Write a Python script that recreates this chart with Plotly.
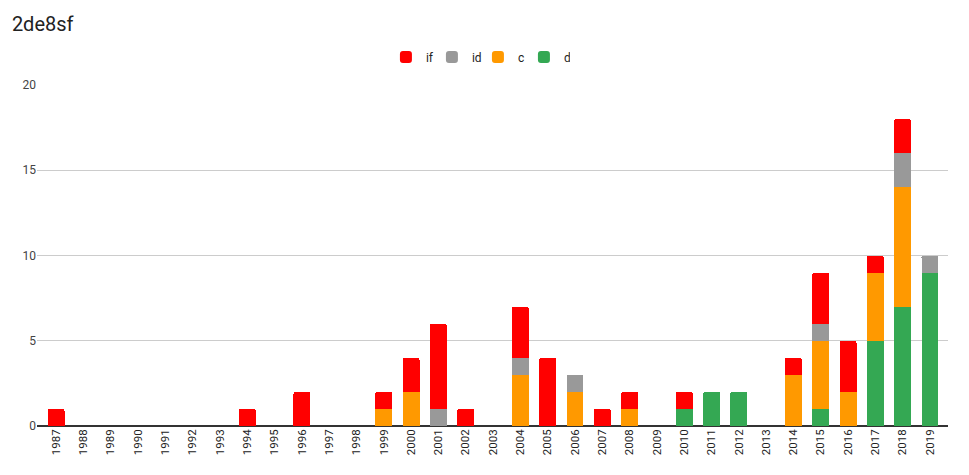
import plotly.graph_objects as go

years = [str(y) for y in range(1987, 2020)]

# values per year, 1987..2019
d_vals = [0, 0, 0, 0, 0, 0, 0, 0, 0, 0, 0, 0, 0, 0, 0, 0, 0, 0, 0, 0, 0, 0, 0,
          1, 2, 2, 0, 0, 1, 0, 5, 7, 9]
c_vals = [0, 0, 0, 0, 0, 0, 0, 0, 0, 0, 0, 0, 1, 2, 0, 0, 0, 3, 0, 2, 0, 1, 0,
          0, 0, 0, 0, 3, 4, 2, 4, 7, 0]
id_vals = [0, 0, 0, 0, 0, 0, 0, 0, 0, 0, 0, 0, 0, 0, 1, 0, 0, 1, 0, 1, 0, 0, 0,
           0, 0, 0, 0, 0, 1, 0, 0, 2, 1]
if_vals = [1, 0, 0, 0, 0, 0, 0, 1, 0, 2, 0, 0, 1, 2, 5, 1, 0, 3, 4, 0, 1, 1, 0,
           1, 0, 0, 0, 1, 3, 3, 1, 2, 0]

series = [
    ('d', d_vals, '#34a853'),
    ('c', c_vals, '#ff9900'),
    ('id', id_vals, '#999999'),
    ('if', if_vals, '#ff0000'),
]

fig = go.Figure()
for name, vals, color in series:
    fig.add_trace(go.Bar(x=years, y=vals, name=name, marker_color=color,
                         marker_line_width=0))

# page has an 8px body margin, so margins are shifted by that
fig.update_layout(
    barmode='stack',
    barcornerradius=2,
    bargap=0.38,
    width=969,
    height=475,
    paper_bgcolor='white',
    plot_bgcolor='white',
    font=dict(family='Roboto', size=12, color='#222222'),
    title=dict(text='2de8sf', x=0.004, xanchor='left', y=0.967, yanchor='middle',
               font=dict(size=20, color='#222222')),
    margin=dict(l=29, r=29, t=77, b=57, autoexpand=False),
    legend=dict(orientation='h', x=0.484, xanchor='center', y=1.082, yanchor='middle',
                traceorder='reversed', font=dict(size=12, color='#222222'),
                itemwidth=30, entrywidth=1, entrywidthmode='pixels'),
    xaxis=dict(type='category', tickangle=-90, range=[-0.7, 32.66],
               showgrid=False, ticks='', tickfont=dict(size=11.5, color='#222222'),
               showline=False, automargin=False),
    yaxis=dict(range=[0, 20], tickvals=[0, 5, 10, 15, 20], showgrid=True,
               gridcolor='#cccccc', gridwidth=1, zeroline=True,
               zerolinecolor='#333333', zerolinewidth=1.5,
               tickfont=dict(size=12, color='#444444'), ticks='',
               automargin=False),
)

fig.write_html('out.html')
